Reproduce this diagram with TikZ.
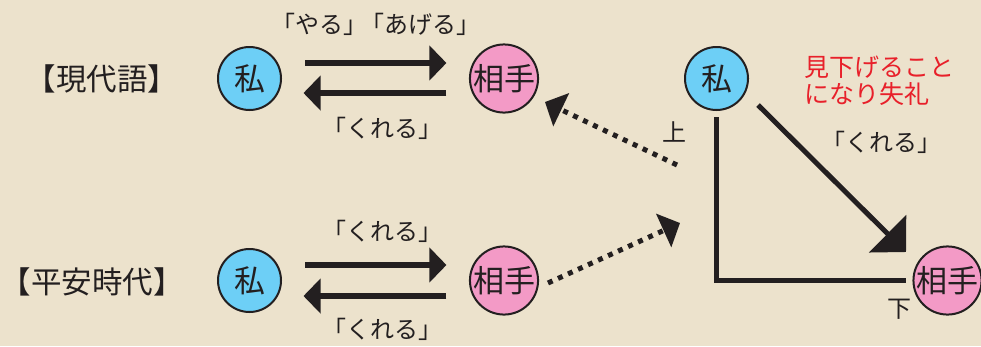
\documentclass[tikz,border=0pt]{standalone}
\usepackage{fontspec}
\setmainfont{Noto Sans CJK JP}
\usetikzlibrary{arrows.meta}
\definecolor{paper}{HTML}{ECE2CC}
\definecolor{ink}{HTML}{231F20}
\definecolor{me}{HTML}{6DCFF6}
\definecolor{you}{HTML}{F39AC6}
\definecolor{warn}{HTML}{E8202A}
\tikzset{
  person/.style={circle, draw=ink, line width=2pt, minimum size=63pt, inner sep=0pt, text=ink, font=\fontsize{31pt}{31pt}\selectfont},
  meball/.style={person, fill=me},
  youball/.style={person, fill=you},
  lbl/.style={text=ink, inner sep=0pt, font=\fontsize{24pt}{24pt}\selectfont},
  era/.style={text=ink, inner sep=0pt, font=\fontsize{30.5pt}{30.5pt}\selectfont},
  flow/.style={draw=ink, line width=6pt, -{Triangle[length=17pt,width=34pt]}},
  hint/.style={draw=ink, line width=5pt, dash pattern=on 5pt off 6pt, -{Triangle[length=18pt,width=36pt]}},
  axis/.style={draw=ink, line width=5pt, line join=miter},
  give/.style={draw=ink, line width=5pt, -{Triangle[length=26pt,width=52pt]}},
}
\begin{document}
\begin{tikzpicture}[x=1pt,y=-1pt]
\fill[paper] (0,0) rectangle (981,346);
\useasboundingbox (0,0) rectangle (981,346);

% modern
\node[era] (modern) at (102,79) {【現代語】};
\node[meball] (a1) at (249.5,78.5) {私};
\node[youball] (b1) at (504,78.5) {相手};
\draw[flow] ([shift={(23,-15.5)}]a1.east) -- ([shift={(-22.5,-15.5)}]b1.west);
\draw[flow] ([shift={(-22.5,14.5)}]b1.west) -- ([shift={(21.5,14.5)}]a1.east);
\node[lbl] (l1) at (376,24) {「やる」\kern-0.3em「あげる」};
\node[lbl] (l2) at (382,128) {「くれる」};

% heian
\node[era] (heian) at (92,282) {【平安時代】};
\node[meball] (a2) at (249.5,280.5) {私};
\node[youball] (b2) at (504,280.5) {相手};
\draw[flow] ([shift={(23,-15.5)}]a2.east) -- ([shift={(-22.5,-15.5)}]b2.west);
\draw[flow] ([shift={(-22.5,15.5)}]b2.west) -- ([shift={(21.5,15.5)}]a2.east);
\node[lbl] (l3) at (382,231) {「くれる」};
\node[lbl] (l4) at (382,329) {「くれる」};

% dotted arrows
\coordinate (h1s) at (677,165);
\coordinate (h1e) at (545,102);
\coordinate (h2s) at (548,283);
\coordinate (h2e) at (680,223);
\draw[hint] (h1s) -- (h1e);
\draw[hint] (h2s) -- (h2e);

% right diagram
\node[meball] (c) at (716.5,78.5) {私};
\node[youball] (d) at (947.5,280.5) {相手};
\draw[axis] ([yshift=-6pt]c.south) |- ([xshift=-6pt]d.west);
\coordinate (gs) at (758,105);
\coordinate (ge) at (906,252);
\draw[give] (gs) -- (ge);
\node[lbl] (up) at (674,132) {上};
\node[lbl] (down) at (899,309) {下};
\node[lbl] (l5) at (881,142) {「くれる」};
\node[lbl, text=warn, align=left, anchor=west, font=\fontsize{25pt}{27pt}\selectfont] (rude) at (804,81) {見下げること\\になり失礼};
\end{tikzpicture}
\end{document}
